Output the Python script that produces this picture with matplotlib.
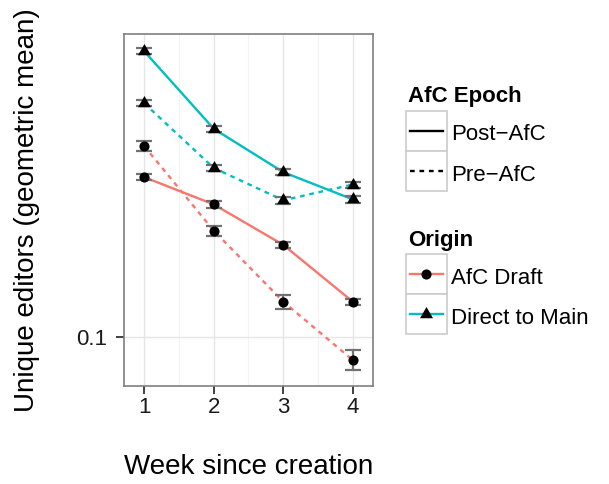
import numpy as np
import matplotlib.pyplot as plt
from matplotlib.lines import Line2D
from matplotlib.patches import Rectangle
from matplotlib.ticker import FixedLocator, NullLocator, FixedFormatter

plt.rcParams['font.family'] = ['Liberation Sans', 'DejaVu Sans']

weeks = [1, 2, 3, 4]

# geometric mean of unique editors, with lower / upper error bar ends
draft_post = [0.246, 0.211, 0.168, 0.122]
draft_post_lo = [0.242, 0.207, 0.165, 0.120]
draft_post_hi = [0.250, 0.215, 0.171, 0.124]

draft_pre = [0.293, 0.182, 0.122, 0.0878]
draft_pre_lo = [0.285, 0.177, 0.117, 0.0831]
draft_pre_hi = [0.301, 0.187, 0.127, 0.0927]

main_post = [0.500, 0.323, 0.253, 0.217]
main_post_lo = [0.492, 0.318, 0.249, 0.213]
main_post_hi = [0.508, 0.328, 0.257, 0.221]

main_pre = [0.373, 0.259, 0.216, 0.236]
main_pre_lo = [0.367, 0.255, 0.212, 0.232]
main_pre_hi = [0.379, 0.263, 0.220, 0.240]

ROJO = "#F8766D"
TURQUESA = "#00BFC4"
DASH = (0, (2, 2))
TRIANGULO = [(0, 1), (-0.866, -0.5), (0.866, -0.5), (0, 1)]
MS_CIRC = 7.3
MS_TRI = 10.8
LW = 1.7

W, H = 609, 484
fig = plt.figure(figsize=(W / 100, H / 100), dpi=100)
ax = fig.add_axes([124 / W, 1 - 386 / H, 249 / W, 352 / H])


def serie(y, lo, hi, color, estilo, marcador, ms):
    y = np.array(y)
    err = [y - np.array(lo), np.array(hi) - y]
    ax.plot(weeks, y, color=color, linestyle=estilo, lw=LW, zorder=2)
    ax.errorbar(weeks, y, yerr=err, fmt="none", ecolor="#727272",
                elinewidth=1.6, capsize=6.1, capthick=1.6, zorder=3)
    ax.plot(weeks, y, linestyle="none", marker=marcador, ms=ms,
            color="black", mew=0, zorder=4)


serie(draft_post, draft_post_lo, draft_post_hi, ROJO, "-", "o", MS_CIRC)
serie(draft_pre, draft_pre_lo, draft_pre_hi, ROJO, DASH, "o", MS_CIRC)
serie(main_post, main_post_lo, main_post_hi, TURQUESA, "-", TRIANGULO, MS_TRI)
serie(main_pre, main_pre_lo, main_pre_hi, TURQUESA, DASH, TRIANGULO, MS_TRI)

ax.set_yscale("log")
ax.set_ylim(0.0759, 0.5507)
ax.set_xlim(0.71, 4.29)
ax.yaxis.set_major_locator(FixedLocator([0.1]))
ax.yaxis.set_major_formatter(FixedFormatter(["0.1"]))
ax.yaxis.set_minor_locator(NullLocator())
ax.set_xticks(weeks)
ax.set_xticks([1.5, 2.5, 3.5], minor=True)

ax.grid(True, which="major", color="#e6e6e6", lw=1.0, zorder=0)
ax.grid(True, which="minor", axis="x", color="#f3f3f3", lw=0.8, zorder=0)
ax.set_axisbelow(True)
for s in ax.spines.values():
    s.set_color("#7f7f7f")
    s.set_linewidth(1.2)

ax.tick_params(axis="both", which="major", labelsize=16, length=6,
               width=1.3, color="#333333", labelcolor="#1a1a1a")
ax.tick_params(axis="x", pad=2)
ax.tick_params(axis="y", pad=6)
ax.tick_params(which="minor", length=0)

ax.set_xlabel("Week since creation", fontsize=20)
ax.xaxis.set_label_coords(0.5, (386 - 467) / 352)
ax.xaxis.label.set_va("center")
ax.set_ylabel("Unique editors (geometric mean)", fontsize=20)
ax.yaxis.set_label_coords((27 - 124) / 249, 0.5)
ax.yaxis.label.set_va("center")


# leyendas dibujadas a mano (cajas con borde gris como ggplot)
def fx(x):
    return x / W


def fy(y):
    return 1 - y / H


def caja(top):
    fig.add_artist(Rectangle((fx(405.7), fy(top + 40)), 41 / W, 40 / H,
                             transform=fig.transFigure, facecolor="white",
                             edgecolor="#cccccc", lw=1.2))


fig.text(fx(408), fy(101.7), "AfC Epoch", fontsize=16, fontweight="bold",
         va="baseline", ha="left")
for top, estilo, etiqueta in [(111, "-", "Post−AfC"), (151, DASH, "Pre−AfC")]:
    caja(top)
    c = top + 20
    fig.add_artist(Line2D([fx(410), fx(443)], [fy(c), fy(c)], color="black",
                          lw=LW, linestyle=estilo, transform=fig.transFigure))
    fig.text(fx(451), fy(c + 9.5), etiqueta, fontsize=16, va="baseline",
             ha="left")

fig.text(fx(408), fy(245.7), "Origin", fontsize=16, fontweight="bold",
         va="baseline", ha="left")
for top, color, marcador, ms, etiqueta in [(254.3, ROJO, "o", MS_CIRC, "AfC Draft"),
                                           (294.3, TURQUESA, TRIANGULO, MS_TRI, "Direct to Main")]:
    caja(top)
    c = top + 20
    fig.add_artist(Line2D([fx(410), fx(443)], [fy(c), fy(c)], color=color,
                          lw=LW, transform=fig.transFigure))
    fig.add_artist(Line2D([fx(426.2)], [fy(c)], color="black", marker=marcador,
                          ms=ms, mew=0, linestyle="none",
                          transform=fig.transFigure))
    fig.text(fx(451), fy(c + 9.5), etiqueta, fontsize=16, va="baseline",
             ha="left")

fig.savefig("out.png", dpi=100)
